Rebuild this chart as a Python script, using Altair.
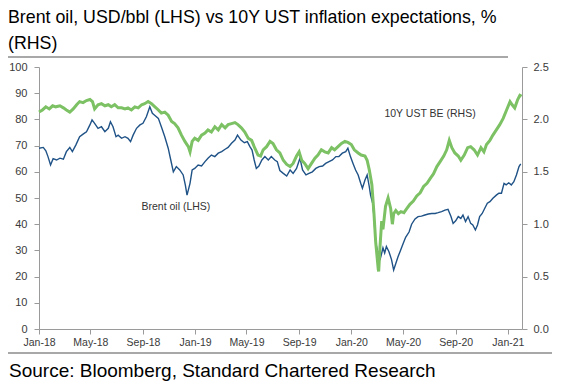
import altair as alt
import pandas as pd

# ---------------- texts ----------------
TITLE_LINES = ["Brent oil, USD/bbl (LHS) vs 10Y UST inflation expectations, %", "(RHS)"]
SOURCE_TEXT = "Source: Bloomberg, Standard Chartered Research"
BRENT_LABEL = "Brent oil (LHS)"
BE_LABEL = "10Y UST BE (RHS)"

# ---------------- axes ----------------
X_DOMAIN = ["2018-01-01", "2021-02-03"]
X_TICKS = ["2018-01-01", "2018-05-01", "2018-09-01", "2019-01-01", "2019-05-01",
           "2019-09-01", "2020-01-01", "2020-05-01", "2020-09-01", "2021-01-01"]
LHS_TICKS = [0, 10, 20, 30, 40, 50, 60, 70, 80, 90, 100]
RHS_TICKS = [0.0, 0.5, 1.0, 1.5, 2.0, 2.5]

# ---------------- Brent oil, USD/bbl (LHS) ----------------
brent_dates = [
    "2018-01-01", "2018-01-11", "2018-01-17", "2018-01-22", "2018-01-28",
    "2018-02-03", "2018-02-11", "2018-02-19", "2018-02-27",
    "2018-03-06", "2018-03-14", "2018-03-20", "2018-03-28",
    "2018-04-06", "2018-04-14", "2018-04-22", "2018-04-30",
    "2018-05-05", "2018-05-11", "2018-05-19", "2018-05-27",
    "2018-06-04", "2018-06-12", "2018-06-17", "2018-06-23", "2018-06-30",
    "2018-07-05", "2018-07-13", "2018-07-21", "2018-07-28",
    "2018-08-03", "2018-08-09", "2018-08-17", "2018-08-25",
    "2018-09-01", "2018-09-09", "2018-09-17", "2018-09-23", "2018-09-29",
    "2018-10-07", "2018-10-14", "2018-10-22", "2018-10-30",
    "2018-11-05", "2018-11-11", "2018-11-18", "2018-11-26",
    "2018-12-04", "2018-12-09", "2018-12-13", "2018-12-20", "2018-12-25", "2018-12-31",
    "2019-01-08", "2019-01-16", "2019-01-24", "2019-01-31",
    "2019-02-08", "2019-02-16", "2019-02-24",
    "2019-03-04", "2019-03-12", "2019-03-19", "2019-03-27",
    "2019-04-04", "2019-04-10", "2019-04-18", "2019-04-26",
    "2019-05-03", "2019-05-09", "2019-05-14", "2019-05-19", "2019-05-24", "2019-05-30",
    "2019-06-06", "2019-06-13", "2019-06-21", "2019-06-28",
    "2019-07-06", "2019-07-12", "2019-07-18", "2019-07-26",
    "2019-08-03", "2019-08-11", "2019-08-18", "2019-08-26",
    "2019-09-03", "2019-09-09", "2019-09-17", "2019-09-24",
    "2019-10-02", "2019-10-10", "2019-10-18", "2019-10-26",
    "2019-11-02", "2019-11-10", "2019-11-18", "2019-11-26",
    "2019-12-03", "2019-12-11", "2019-12-19", "2019-12-24", "2019-12-30",
    "2020-01-05", "2020-01-11", "2020-01-17", "2020-01-23", "2020-01-27",
    "2020-02-02", "2020-02-07", "2020-02-12", "2020-02-15", "2020-02-20",
    "2020-02-23", "2020-02-26", "2020-02-29",
    "2020-03-04", "2020-03-08", "2020-03-12", "2020-03-15", "2020-03-19",
    "2020-03-23", "2020-03-29",
    "2020-04-04", "2020-04-09", "2020-04-14", "2020-04-19", "2020-04-25",
    "2020-05-01", "2020-05-07", "2020-05-15", "2020-05-21", "2020-05-29",
    "2020-06-05", "2020-06-13", "2020-06-21", "2020-06-29",
    "2020-07-07", "2020-07-15", "2020-07-22", "2020-07-30",
    "2020-08-07", "2020-08-14", "2020-08-21", "2020-08-26",
    "2020-09-01", "2020-09-07", "2020-09-13", "2020-09-18", "2020-09-24", "2020-09-30",
    "2020-10-06", "2020-10-11", "2020-10-17", "2020-10-22", "2020-10-27",
    "2020-11-02", "2020-11-08", "2020-11-14", "2020-11-20", "2020-11-27",
    "2020-12-05", "2020-12-11", "2020-12-17", "2020-12-23", "2020-12-28",
    "2021-01-03", "2021-01-09", "2021-01-15", "2021-01-21", "2021-01-27", "2021-01-31",
]
brent_values = [
    69.0, 69.3, 68.0, 65.8, 62.6,
    65.0, 64.5, 65.2, 64.8,
    67.7, 69.3, 67.7, 70.2,
    73.4, 74.4, 75.3, 77.9,
    79.8, 78.5, 76.6, 77.2,
    75.3, 76.6, 79.1, 77.2, 73.4,
    74.0, 72.8, 73.4, 72.8,
    71.5, 74.0, 76.6, 77.9,
    78.5, 81.0, 84.8, 82.3, 81.5,
    80.4, 77.2, 73.4, 69.0,
    64.5, 60.0, 62.0, 60.7,
    58.8, 55.0, 51.1, 55.6, 60.7, 61.3,
    62.6, 62.2, 63.9, 65.2,
    66.4, 65.8, 67.1,
    67.7, 68.6, 69.3, 70.9,
    72.1, 74.0, 72.1, 71.1,
    71.5, 69.6, 68.3, 64.5, 61.3, 62.2,
    64.5, 65.8, 64.5, 65.8,
    64.5, 63.9, 60.5, 59.4,
    58.4, 60.7, 59.4, 61.3,
    65.2, 60.7, 58.8, 59.4,
    60.0, 61.3, 62.0, 62.2,
    63.2, 63.9, 64.5, 65.8,
    65.8, 67.1, 67.7, 69.0, 65.8,
    63.2, 60.7, 58.8, 55.6, 53.7,
    56.9, 58.8, 54.3, 51.1, 48.0,
    42.9, 35.2, 31.4,
    28.9, 26.3, 28.9, 31.0, 29.0,
    31.5, 29.5,
    26.5, 22.5, 25.0, 27.5, 30.0,
    32.5, 35.0, 37.0, 40.0, 42.0,
    42.9, 43.1, 43.5, 43.9,
    44.1, 44.1, 44.4, 44.8,
    45.4, 45.7, 42.9, 40.3,
    41.3, 42.9, 42.2, 43.5, 41.0, 42.9,
    40.3, 39.7, 37.8, 39.7, 42.9,
    44.1, 46.1, 48.0, 48.6, 49.9,
    51.1, 51.8, 51.8, 55.6, 55.0,
    55.8, 55.0, 56.2, 58.8, 62.0, 63.0,
]

# ---------------- 10Y UST breakeven, % (RHS) ----------------
be_dates = [
    "2018-01-01", "2018-01-09", "2018-01-17", "2018-01-25",
    "2018-02-02", "2018-02-09", "2018-02-19", "2018-02-27",
    "2018-03-06", "2018-03-14", "2018-03-22", "2018-03-30",
    "2018-04-06", "2018-04-14", "2018-04-22", "2018-04-30",
    "2018-05-06", "2018-05-11", "2018-05-19", "2018-05-27",
    "2018-06-04", "2018-06-12", "2018-06-19", "2018-06-27",
    "2018-07-05", "2018-07-13", "2018-07-21", "2018-07-28",
    "2018-08-05", "2018-08-13", "2018-08-21", "2018-08-29",
    "2018-09-05", "2018-09-13", "2018-09-21", "2018-09-29",
    "2018-10-07", "2018-10-14", "2018-10-22", "2018-10-30",
    "2018-11-07", "2018-11-14", "2018-11-22", "2018-11-30",
    "2018-12-08", "2018-12-16", "2018-12-20", "2018-12-25", "2018-12-31",
    "2019-01-08", "2019-01-16", "2019-01-24", "2019-01-31",
    "2019-02-08", "2019-02-16", "2019-02-24",
    "2019-03-04", "2019-03-12", "2019-03-19", "2019-03-27",
    "2019-04-04", "2019-04-11", "2019-04-19", "2019-04-27",
    "2019-05-05", "2019-05-13", "2019-05-20", "2019-05-28",
    "2019-06-03", "2019-06-09", "2019-06-17", "2019-06-25",
    "2019-07-02", "2019-07-10", "2019-07-18", "2019-07-26",
    "2019-08-03", "2019-08-11", "2019-08-18", "2019-08-26",
    "2019-09-01", "2019-09-07", "2019-09-14", "2019-09-22", "2019-09-30",
    "2019-10-08", "2019-10-15", "2019-10-23", "2019-10-31",
    "2019-11-08", "2019-11-16", "2019-11-23",
    "2019-12-01", "2019-12-09", "2019-12-17", "2019-12-24",
    "2020-01-01", "2020-01-08", "2020-01-17", "2020-01-24",
    "2020-02-02", "2020-02-07", "2020-02-12", "2020-02-18", "2020-02-23", "2020-02-27",
    "2020-03-04", "2020-03-05", "2020-03-08", "2020-03-12", "2020-03-15",
    "2020-03-21", "2020-03-27",
    "2020-04-02", "2020-04-06", "2020-04-09", "2020-04-14", "2020-04-20", "2020-04-26",
    "2020-05-03", "2020-05-10", "2020-05-17", "2020-05-25",
    "2020-06-02", "2020-06-10", "2020-06-18", "2020-06-26",
    "2020-07-04", "2020-07-11", "2020-07-19", "2020-07-27",
    "2020-08-04", "2020-08-11", "2020-08-17", "2020-08-23", "2020-08-30",
    "2020-09-07", "2020-09-13", "2020-09-21", "2020-09-29",
    "2020-10-06", "2020-10-14", "2020-10-22", "2020-10-30",
    "2020-11-06", "2020-11-12", "2020-11-20", "2020-11-27",
    "2020-12-05", "2020-12-13", "2020-12-21", "2020-12-29",
    "2021-01-06", "2021-01-11", "2021-01-17", "2021-01-24", "2021-01-29", "2021-02-02",
]
be_values = [
    2.07, 2.09, 2.12, 2.10,
    2.13, 2.12, 2.13, 2.11,
    2.09, 2.07, 2.10, 2.14,
    2.17, 2.16, 2.18, 2.19,
    2.17, 2.10, 2.14, 2.15,
    2.13, 2.14, 2.12, 2.14,
    2.11, 2.11, 2.10, 2.11,
    2.09, 2.12, 2.11, 2.14,
    2.15, 2.17, 2.15, 2.12,
    2.09, 2.06, 2.07, 2.04,
    1.98, 1.96, 1.92, 1.85,
    1.79, 1.74, 1.69, 1.79, 1.82,
    1.80, 1.85, 1.87, 1.90,
    1.88, 1.93, 1.90,
    1.95, 1.92, 1.95, 1.96,
    1.97, 1.95, 1.92, 1.88,
    1.82, 1.80, 1.73, 1.66,
    1.65, 1.71, 1.74, 1.79,
    1.77, 1.71, 1.68, 1.61,
    1.57, 1.55, 1.58, 1.65,
    1.69, 1.61, 1.58, 1.53, 1.58,
    1.63, 1.66, 1.71, 1.69,
    1.68, 1.73, 1.71,
    1.74, 1.77, 1.79, 1.78,
    1.76, 1.71, 1.68, 1.66,
    1.65, 1.61, 1.52, 1.38, 1.10, 0.83,
    0.57, 0.55, 0.78, 1.03, 0.95,
    1.17, 1.25,
    1.15, 1.00, 1.10, 1.13, 1.10, 1.12,
    1.11, 1.15, 1.19, 1.22,
    1.27, 1.30, 1.36, 1.39,
    1.44, 1.48, 1.55, 1.60,
    1.65, 1.71, 1.80, 1.73, 1.68,
    1.65, 1.61, 1.66, 1.73,
    1.74, 1.71, 1.66, 1.73,
    1.69, 1.76, 1.80, 1.85,
    1.90, 1.95, 2.01, 2.09,
    2.17, 2.14, 2.11, 2.19, 2.23, 2.22,
]

# line label anchors (data coordinates)
BRENT_LABEL_AT = ("2018-11-17", 46.6)
BE_LABEL_AT = ("2020-07-03", 2.05)

# ---------------- styling ----------------
FONT = "Liberation Sans, Arial, Helvetica, sans-serif"
BLUE = "#1f5286"
GREEN = "#7cc163"
AXIS_GREY = "#9a9a9a"
RULE_GREY = "#a8a8a8"
TEXT_DARK = "#3a3a3a"


def dt(s):
    y, m, d = (int(p) for p in s.split("-"))
    return alt.DateTime(year=y, month=m, date=d)


brent_df = pd.DataFrame({"date": pd.to_datetime(brent_dates), "brent": brent_values})
be_df = pd.DataFrame({"date": pd.to_datetime(be_dates), "be": be_values})
brent_lab_df = pd.DataFrame({"date": pd.to_datetime([BRENT_LABEL_AT[0]]),
                             "brent": [BRENT_LABEL_AT[1]], "label": [BRENT_LABEL]})
be_lab_df = pd.DataFrame({"date": pd.to_datetime([BE_LABEL_AT[0]]),
                          "be": [BE_LABEL_AT[1]], "label": [BE_LABEL]})

x_scale = alt.Scale(domain=[dt(X_DOMAIN[0]), dt(X_DOMAIN[1])])
x_axis = alt.Axis(values=[dt(s) for s in X_TICKS], format="%b-%y", labelFlush=False,
                  labelOverlap=False, tickSize=5, labelPadding=3, labelFontSize=10.5,
                  title=None)
lhs_scale = alt.Scale(domain=[0, 100], nice=False, zero=True)
rhs_scale = alt.Scale(domain=[0, 2.5], nice=False, zero=True)
lhs_axis = alt.Axis(values=LHS_TICKS, orient="left", tickSize=5, labelPadding=7,
                    labelFontSize=11, title=None)
rhs_axis = alt.Axis(values=RHS_TICKS, orient="right", format=".1f", tickSize=5,
                    labelPadding=6, labelFontSize=11, title=None)

brent_line = alt.Chart(brent_df).mark_line(color=BLUE, strokeWidth=1.4).encode(
    x=alt.X("date:T", scale=x_scale, axis=x_axis),
    y=alt.Y("brent:Q", scale=lhs_scale, axis=lhs_axis),
)
be_line = alt.Chart(be_df).mark_line(color=GREEN, strokeWidth=3).encode(
    x=alt.X("date:T", scale=x_scale, axis=x_axis),
    y=alt.Y("be:Q", scale=rhs_scale, axis=rhs_axis),
)
brent_text = alt.Chart(brent_lab_df).mark_text(
    font=FONT, fontSize=10.5, color="#333333", align="center", baseline="middle"
).encode(
    x=alt.X("date:T", scale=x_scale),
    y=alt.Y("brent:Q", scale=lhs_scale, axis=None),
    text="label:N",
)
be_text = alt.Chart(be_lab_df).mark_text(
    font=FONT, fontSize=10.5, color="#333333", align="center", baseline="middle"
).encode(
    x=alt.X("date:T", scale=x_scale),
    y=alt.Y("be:Q", scale=rhs_scale, axis=None),
    text="label:N",
)

one = alt.Data(values=[{}])
top_rule = alt.Chart(one).mark_rule(color=RULE_GREY, strokeWidth=2).encode(
    x=alt.value(-31), x2=alt.value(469), y=alt.value(-10))
bottom_rule = alt.Chart(one).mark_rule(color=RULE_GREY, strokeWidth=2).encode(
    x=alt.value(-31), x2=alt.value(513), y=alt.value(286))
title_text = alt.Chart(one).mark_text(
    text=TITLE_LINES, font=FONT, fontSize=17.8, lineHeight=26, color="#000000",
    align="left", baseline="alphabetic"
).encode(x=alt.value(-31), y=alt.value(-44.5))
source_text = alt.Chart(one).mark_text(
    text=SOURCE_TEXT, font=FONT, fontSize=19, color="#000000",
    align="left", baseline="alphabetic"
).encode(x=alt.value(-30), y=alt.value(310))

chart = alt.layer(
    brent_line, be_line, brent_text, be_text,
    top_rule, bottom_rule, title_text, source_text,
).resolve_scale(y="independent").properties(
    width=483, height=262,
    padding={"left": 31, "top": 59, "right": 37, "bottom": 53},
    autosize=alt.AutoSizeParams(type="none"),
).configure_view(stroke=None).configure_axis(
    grid=False, domainColor=AXIS_GREY, tickColor=AXIS_GREY, labelColor=TEXT_DARK,
    labelFont=FONT, domainWidth=1, tickWidth=1,
)

chart.save("out.html", embed_options={"renderer": "svg", "actions": False})
